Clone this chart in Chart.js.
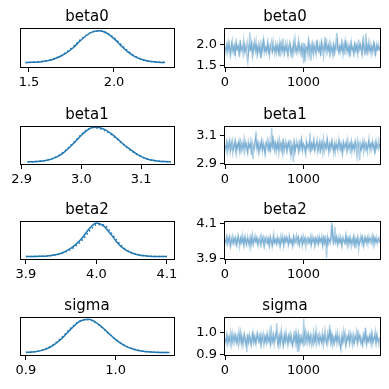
<!DOCTYPE html>
<html>
<head>
<meta charset="utf-8">
<script src="https://cdn.jsdelivr.net/npm/chart.js@4.4.0/dist/chart.umd.min.js"></script>
<style>
  body { margin: 0; background: #fff; }
  #wrap { position: relative; width: 389px; height: 389px; }
  canvas { position: absolute; }
</style>
</head>
<body>
<div id="wrap"></div>
<script>
// ---- data ----
const varNames = ['beta0', 'beta1', 'beta2', 'sigma']

// kde grids + densities (chain 0 solid, chain 1 dotted)
const beta0Grid = [1.48,1.52,1.56,1.60,1.64,1.68,1.72,1.76,1.80,1.84,1.88,1.92,1.96,2.00,2.04,2.08,2.12,2.16,2.20,2.24,2.28,2.30]
const beta0Kde1 = [0.02,0.04,0.08,0.17,0.33,0.62,1.02,1.55,2.25,2.85,3.25,3.33,3.05,2.50,1.80,1.15,0.65,0.35,0.17,0.08,0.03,0.02]
const beta0Kde2 = [0.02,0.05,0.10,0.20,0.36,0.66,1.10,1.68,2.35,2.90,3.22,3.30,3.08,2.60,1.92,1.25,0.72,0.38,0.18,0.08,0.04,0.03]

const beta1Grid = [2.91,2.92,2.93,2.94,2.95,2.96,2.97,2.98,2.99,3.00,3.01,3.02,3.03,3.04,3.05,3.06,3.07,3.08,3.09,3.10,3.11,3.12,3.13,3.14,3.15]
const beta1Kde1 = [0.03,0.08,0.19,0.43,0.9,1.7,2.9,4.6,6.5,8.5,10.1,11.0,10.9,10.2,9.0,7.4,5.7,4.2,2.85,1.75,0.95,0.5,0.25,0.11,0.05]
const beta1Kde2 = [0.04,0.1,0.22,0.5,1.0,1.85,3.1,4.8,6.8,8.7,10.3,10.9,10.6,9.9,8.7,7.2,5.6,4.0,2.7,1.6,0.9,0.45,0.2,0.1,0.05]

const beta2Grid = [3.90,3.91,3.92,3.93,3.94,3.95,3.96,3.97,3.98,3.99,4.00,4.01,4.02,4.03,4.04,4.05,4.06,4.07,4.08,4.09,4.10]
const beta2Kde1 = [0.05,0.1,0.2,0.4,0.9,1.9,3.7,6.5,10.5,15.5,18.6,17.0,12.6,7.6,4.0,2.0,0.9,0.4,0.15,0.06,0.03]
const beta2Kde2 = [0.04,0.08,0.18,0.38,0.85,1.7,3.2,5.6,9.2,14.0,17.6,17.6,13.6,8.4,4.5,2.2,1.0,0.45,0.18,0.07,0.03]

const sigmaGrid = [0.90,0.91,0.92,0.93,0.94,0.95,0.96,0.97,0.98,0.99,1.00,1.01,1.02,1.03,1.04,1.05,1.06]
const sigmaKde1 = [0.12,0.45,1.5,3.8,7.6,12.6,16.8,17.9,15.5,11.4,7.0,3.8,1.8,0.8,0.3,0.12,0.05]
const sigmaKde2 = [0.15,0.5,1.7,4.2,8.2,13.1,17.0,17.6,15.2,11.2,7.1,3.9,1.9,0.9,0.35,0.15,0.06]

// traces, thinned draws of each chain (150 per chain)
const beta0Trace1 = [
  1.93,1.80,2.02,1.86,1.99,1.75,1.94,2.09,1.84,1.97, 1.78,2.05,1.89,1.96,1.71,2.01,1.87,1.92,2.11,1.82,
  1.95,1.74,1.58,1.90,2.28,1.85,2.03,1.79,1.98,1.88, 2.07,1.76,1.93,1.83,2.00,1.69,1.95,2.12,1.86,1.91,
  1.81,2.04,1.89,1.73,1.97,2.08,1.84,1.92,1.77,2.01, 1.87,1.96,1.72,2.06,1.90,1.82,2.14,1.79,1.94,1.86,
  2.02,1.75,1.91,1.99,1.68,1.88,2.05,1.83,1.96,1.80, 1.93,2.10,1.85,1.77,1.98,1.89,1.55,2.03,1.84,1.92,
  1.74,2.07,1.88,1.62,1.97,1.81,2.01,1.90,1.76,2.09, 1.86,1.94,1.79,2.04,1.87,1.70,1.99,1.92,2.13,1.83,
  1.95,1.78,2.02,1.88,1.73,1.97,1.85,2.06,2.27,1.90, 1.81,1.96,1.87,2.03,1.75,1.92,2.09,1.84,1.99,1.79,
  1.93,1.71,2.05,1.89,1.82,2.00,1.86,1.95,1.77,2.11, 1.88,1.98,1.80,2.04,1.91,1.74,2.26,1.85,1.97,1.83,
  2.02,1.78,1.94,1.87,2.08,1.72,1.96,1.89,2.01,1.84]
const beta0Trace2 = [
  1.88,1.97,1.82,2.06,1.91,1.77,2.00,1.85,1.94,1.73, 2.03,1.89,1.95,1.80,2.10,1.86,1.93,1.76,1.98,1.84,
  1.90,2.05,1.79,1.96,1.87,2.01,1.72,1.92,2.08,1.83, 1.95,1.78,2.02,1.88,1.67,1.99,1.85,2.13,1.81,1.94,
  1.86,2.04,1.75,1.97,1.90,1.82,2.07,1.88,1.93,1.79, 2.00,1.84,1.96,1.71,2.09,1.87,1.92,1.80,2.03,1.89,
  1.77,1.95,2.06,1.83,1.91,1.74,1.98,2.15,1.86,1.93, 1.81,2.01,1.88,1.96,1.69,2.04,1.85,1.60,1.94,1.90,
  2.08,1.79,1.97,1.87,2.02,1.76,1.93,1.84,2.11,1.89, 1.82,1.99,1.73,2.05,1.91,1.86,2.18,1.80,1.95,1.88,
  2.03,1.77,1.92,1.85,2.00,1.72,1.96,1.89,2.07,1.83, 1.94,1.80,2.04,1.87,1.98,1.75,2.10,1.91,1.84,1.97,
  1.79,2.02,1.88,1.93,1.70,2.06,1.86,1.99,1.82,1.95, 2.01,1.87,1.76,2.21,1.90,1.83,1.97,1.74,2.05,1.89,
  1.85,1.96,1.81,2.03,1.92,1.78,2.00,1.88,1.94,1.86]

const beta1Trace1 = [
  3.03,2.99,3.06,3.01,3.05,2.98,3.04,3.07,3.00,3.02, 3.06,2.97,3.03,3.05,3.00,3.08,2.99,3.02,3.04,2.98,
  3.05,3.01,2.97,3.04,3.02,3.07,2.99,2.93,3.03,3.06, 3.13,3.00,3.04,2.98,3.02,3.06,2.99,3.05,3.01,2.97,
  3.04,3.07,3.00,3.03,2.98,3.155,3.02,3.05,2.99,3.04, 3.01,3.06,2.97,3.03,3.05,3.00,3.08,2.98,3.02,3.04,
  2.99,3.05,3.01,3.07,2.96,3.03,2.91,3.04,3.00,3.06, 3.02,2.98,3.05,3.01,3.07,2.99,3.04,3.02,2.97,3.05,
  3.03,3.00,3.12,2.98,3.04,3.01,3.06,2.99,3.03,3.07, 3.00,3.04,2.97,3.05,3.02,3.08,2.99,3.03,3.01,3.06,
  2.98,3.04,3.00,3.06,3.02,2.97,3.05,3.01,3.03,2.99, 3.07,3.01,3.04,2.98,3.05,3.00,3.03,3.06,2.99,3.02,
  3.04,2.97,3.06,3.01,3.03,2.99,3.05,3.02,3.07,3.00, 2.92,3.04,3.01,3.06,2.98,3.03,3.05,3.00,3.02,3.08,
  2.99,3.03,3.05,3.01,3.04,2.97,3.06,3.02,3.00,3.04]
const beta1Trace2 = [
  3.01,3.05,2.98,3.03,3.07,3.00,3.04,2.97,3.02,3.06, 2.99,3.04,3.01,3.06,2.98,3.03,3.05,3.00,3.08,3.02,
  3.04,2.99,3.06,3.01,3.03,2.96,3.05,3.02,3.00,3.07, 3.02,3.05,2.98,3.04,3.01,3.06,3.00,3.03,2.97,3.05,
  3.03,3.00,3.06,2.99,3.04,3.02,3.10,3.01,3.05,2.98, 3.04,3.01,3.07,3.00,3.03,2.97,3.05,3.02,3.06,2.99,
  3.03,3.05,3.00,2.95,3.04,3.01,3.06,2.98,3.03,3.02, 3.05,2.99,3.03,3.07,3.00,3.04,3.02,2.98,3.06,3.01,
  3.03,3.05,2.99,3.04,3.01,3.07,3.00,3.03,3.05,2.98, 3.02,3.06,3.00,3.04,2.97,3.03,3.05,3.01,3.08,3.02,
  2.99,3.04,3.02,3.06,3.00,3.03,2.98,3.05,3.01,3.04, 3.06,3.00,3.03,2.97,3.05,3.02,3.04,2.99,3.07,3.01,
  3.03,3.05,2.98,3.04,3.01,3.06,3.00,2.94,3.03,3.05, 3.01,2.99,3.04,3.02,3.06,3.00,3.03,2.98,3.05,3.02,
  3.04,3.00,3.06,3.02,2.98,3.05,3.01,3.03,3.07,3.00]

const beta2Trace1 = [
  4.012,3.984,4.027,3.993,4.018,3.972,4.004,4.031,3.987,4.009, 4.021,3.979,4.002,4.026,3.968,4.014,3.991,4.035,3.982,4.017,
  3.998,3.975,4.024,3.989,4.011,3.964,4.019,3.985,4.006,4.033, 3.992,4.016,3.974,4.008,4.028,3.981,4.003,4.022,3.952,4.013,
  4.025,3.988,4.010,3.970,4.020,3.996,3.978,4.038,3.990,4.007, 3.983,4.018,4.001,3.969,4.029,3.994,4.012,3.980,4.023,3.999,
  4.015,3.977,4.031,3.992,4.006,3.971,4.024,3.986,4.011,4.036, 3.989,4.020,3.976,4.009,4.027,3.984,4.003,4.017,3.966,4.014,
  4.022,3.991,4.008,3.973,4.030,3.997,4.013,3.981,4.019,4.002, 3.979,4.025,3.993,4.010,3.975,4.016,3.988,4.034,3.902,4.021,
  3.985,4.012,4.003,4.110,4.028,3.977,4.083,3.995,4.018,3.982, 4.026,3.990,4.009,3.970,4.023,4.001,3.986,4.032,3.974,4.015,
  3.994,4.019,3.968,4.008,4.027,3.983,4.011,3.978,4.021,3.952, 4.004,4.030,3.987,4.016,3.973,4.022,3.996,4.013,3.980,4.025,
  3.991,4.007,4.034,3.976,4.017,3.999,4.024,3.984,4.010,3.993]
const beta2Trace2 = [
  3.994,4.021,3.981,4.010,4.028,3.970,4.005,3.988,4.019,3.983, 4.013,3.976,4.030,4.001,3.985,4.022,3.993,4.011,3.972,4.027,
  3.987,4.015,4.002,3.969,4.024,3.991,4.037,3.980,4.012,3.998, 4.020,3.984,4.009,3.995,3.973,4.029,4.003,3.978,4.018,3.996,
  3.989,4.014,3.979,4.026,4.000,3.967,4.021,3.992,4.010,3.983, 4.023,3.990,4.012,3.977,4.004,4.031,3.971,4.016,3.994,4.025,
  3.999,3.982,4.019,3.993,4.008,3.976,4.027,4.003,3.988,4.014, 4.024,3.980,4.006,4.017,3.972,4.029,3.991,4.020,3.998,3.985,
  4.011,3.993,4.026,3.981,4.002,4.018,3.970,4.013,3.990,4.023, 3.986,4.015,4.001,4.030,3.974,4.021,3.992,4.008,3.979,4.019,
  4.003,3.984,4.021,4.092,3.991,4.014,3.997,4.026,3.980,4.009, 3.995,4.024,3.978,4.012,4.001,3.987,4.031,3.993,4.016,3.975,
  4.020,3.989,4.007,3.983,4.025,3.955,4.010,3.996,4.018,3.981, 3.992,4.013,4.028,3.977,4.004,4.019,3.986,4.023,3.998,4.011,
  4.017,3.985,4.002,4.026,3.979,4.012,3.994,4.008,4.021,3.988]

const sigmaTrace1 = [
  0.972,0.951,0.989,0.958,0.981,0.944,0.969,0.998,0.955,0.976, 0.993,0.962,0.984,0.941,0.973,1.004,0.956,0.979,0.948,0.987,
  0.966,0.912,0.991,0.953,0.977,0.945,0.968,1.001,0.959,0.983, 0.949,0.992,0.970,0.957,0.986,0.943,0.975,0.996,0.961,0.980,
  0.952,0.988,0.967,0.999,0.946,0.974,0.958,0.990,0.963,0.978, 1.041,0.954,0.982,0.947,0.994,0.965,0.939,0.985,0.960,1.003,
  0.971,0.950,0.987,0.957,0.979,0.942,0.968,1.008,0.953,0.984, 0.911,0.993,0.964,0.948,0.982,0.959,1.062,0.940,0.972,0.997,
  0.955,0.986,0.961,0.992,0.969,0.944,0.981,0.958,1.013,0.974, 0.990,0.949,0.976,0.962,1.000,0.945,0.983,0.967,0.952,0.995,
  0.966,1.035,0.957,0.985,0.943,0.978,0.961,0.994,0.950,0.980, 0.971,0.942,0.921,0.989,0.956,0.977,1.002,0.947,0.970,0.984,
  0.953,0.996,0.965,0.941,0.988,0.958,0.975,1.006,0.951,0.979, 0.991,0.954,0.973,0.946,0.984,0.962,0.999,0.948,0.977,0.960,
  0.982,0.947,0.994,0.958,0.971,1.005,0.952,0.986,0.963,0.975]
const sigmaTrace2 = [
  0.958,0.987,0.947,0.979,0.966,1.001,0.943,0.974,0.992,0.955, 0.981,0.950,0.969,1.007,0.957,0.985,0.940,0.972,0.995,0.961,
  0.944,0.983,0.960,0.993,0.971,0.946,1.003,0.956,0.980,0.952, 0.975,0.998,0.963,0.985,0.948,0.990,0.967,0.942,0.982,0.959,
  0.994,0.957,0.973,0.949,1.031,0.962,0.988,0.945,0.978,0.997, 0.965,0.940,0.983,0.954,1.009,0.970,0.946,0.991,0.958,0.980,
  0.947,0.986,0.968,0.996,0.955,0.941,0.979,0.964,1.002,0.953, 0.984,0.915,0.993,0.958,0.971,0.948,0.989,1.010,0.956,0.976,
  0.996,0.952,0.980,0.943,0.967,1.004,0.960,0.987,0.945,0.973, 0.957,0.992,0.970,0.949,0.983,0.961,1.010,0.968,0.944,0.985,
  0.974,1.015,0.954,0.990,0.962,0.946,0.981,0.967,0.999,0.958, 0.987,0.943,0.976,0.955,1.006,0.964,0.940,0.982,0.969,0.997,
  0.951,0.978,0.994,0.960,0.947,0.985,0.972,0.956,1.011,0.965, 0.980,0.958,0.941,0.993,0.970,1.021,0.952,0.976,0.961,0.989,
  0.966,0.998,0.949,0.972,0.984,0.955,0.991,0.963,0.944,0.978]

// tick values
const beta0KdeTicks = [1.5, 2.0]
const beta1KdeTicks = [2.9, 3.0, 3.1]
const beta2KdeTicks = [3.9, 4.0, 4.1]
const sigmaKdeTicks = [0.9, 1.0]
const drawTicks = [0, 1000]
const beta0TraceTicks = [1.5, 2.0]
const beta1TraceTicks = [2.9, 3.0, 3.1]
const beta2TraceTicks = [3.9, 4.0, 4.1]
const sigmaTraceTicks = [0.9, 1.0]

// ---- layout / styling ----
const FONT = 'DejaVu Sans'
const blue = '#1f77b4'
const traceColor = 'rgba(31,119,180,0.36)'
const drawStep = 13.2

const boxTops = [29, 127, 222, 318]
const boxHeights = [38, 37, 37, 37]

const panels = [
  { grid: beta0Grid, kde: [beta0Kde1, beta0Kde2], kdeTicks: beta0KdeTicks, kdeX: [1.453, 2.353], kdeY: [-0.45, 3.5],
    trace: [beta0Trace1, beta0Trace2], traceTicks: beta0TraceTicks, traceY: [1.47, 2.36] },
  { grid: beta1Grid, kde: [beta1Kde1, beta1Kde2], kdeTicks: beta1KdeTicks, kdeX: [2.899, 3.155], kdeY: [-0.66, 11.1],
    trace: [beta1Trace1, beta1Trace2], traceTicks: beta1TraceTicks, traceY: [2.895, 3.162] },
  { grid: beta2Grid, kde: [beta2Kde1, beta2Kde2], kdeTicks: beta2KdeTicks, kdeX: [3.893, 4.11], kdeY: [-1.3, 19.16],
    trace: [beta2Trace1, beta2Trace2], traceTicks: beta2TraceTicks, traceY: [3.896, 4.11] },
  { grid: sigmaGrid, kde: [sigmaKde1, sigmaKde2], kdeTicks: sigmaKdeTicks, kdeX: [0.8945, 1.065], kdeY: [-1.26, 18.54],
    trace: [sigmaTrace1, sigmaTrace2], traceTicks: sigmaTraceTicks, traceY: [0.899, 1.065] }
]

// axes box (matplotlib draws all four spines)
const frame = {
  id: 'frame',
  afterDraw(chart) {
    const a = chart.chartArea
    const ctx = chart.ctx
    ctx.save()
    ctx.strokeStyle = '#000'
    ctx.lineWidth = 1
    ctx.strokeRect(a.left - 0.5, a.top - 0.5, a.right - a.left + 1, a.bottom - a.top + 1)
    ctx.restore()
  }
}

const tickGrid = { drawOnChartArea: false, drawTicks: true, tickLength: 5, color: '#000', tickColor: '#000', lineWidth: 1 }
const tickFont = { family: FONT, size: 13 }

const makeCanvas = (left, top, w, h) => {
  const c = document.createElement('canvas')
  c.width = w
  c.height = h
  c.style.left = left + 'px'
  c.style.top = top + 'px'
  c.style.width = w + 'px'
  c.style.height = h + 'px'
  document.getElementById('wrap').appendChild(c)
  return c
}

const baseOptions = (title, rightPad) => ({
  responsive: false,
  animation: false,
  devicePixelRatio: 1,
  layout: { padding: { left: 0, right: rightPad, top: 0, bottom: 0 } },
  plugins: {
    legend: { display: false },
    tooltip: { enabled: false },
    title: {
      display: true, text: title, color: '#000',
      font: { family: FONT, size: 15, weight: 'normal', lineHeight: 1.2 },
      padding: { top: 8, bottom: 3 }
    }
  }
})

panels.forEach((p, r) => {
  const top = boxTops[r] - 29
  const h = 29 + boxHeights[r] + 30

  // left: kde
  const kdeOpts = baseOptions(varNames[r], 16)
  kdeOpts.scales = {
    x: {
      type: 'linear', min: p.kdeX[0], max: p.kdeX[1], bounds: 'data',
      afterBuildTicks: s => { s.ticks = p.kdeTicks.map(v => ({ value: v })) },
      afterFit: s => { s.height = 30 },
      grid: tickGrid, border: { display: false },
      ticks: { color: '#000', font: tickFont, padding: 3, maxRotation: 0, autoSkip: false, callback: v => v.toFixed(1) }
    },
    y: {
      min: p.kdeY[0], max: p.kdeY[1],
      afterFit: s => { s.width = 21 },
      grid: { display: false }, border: { display: false }, ticks: { display: false }
    }
  }
  new Chart(makeCanvas(0, top, 190, h), {
    type: 'scatter',
    data: {
      datasets: p.kde.map((ys, k) => ({
        data: p.grid.map((x, i) => ({ x: x, y: ys[i] })),
        showLine: true, borderColor: blue, borderWidth: 1.5, pointRadius: 0,
        cubicInterpolationMode: 'monotone', borderDash: k === 0 ? [] : [1.5, 2.5]
      }))
    },
    options: kdeOpts,
    plugins: [frame]
  })

  // right: trace
  const trOpts = baseOptions(varNames[r], 9)
  trOpts.scales = {
    x: {
      type: 'linear', min: 0, max: 1975, bounds: 'data',
      afterBuildTicks: s => { s.ticks = drawTicks.map(v => ({ value: v })) },
      afterFit: s => { s.height = 30 },
      grid: tickGrid, border: { display: false },
      ticks: { color: '#000', font: tickFont, padding: 3, maxRotation: 0, autoSkip: false, callback: v => String(v) }
    },
    y: {
      min: p.traceY[0], max: p.traceY[1], bounds: 'data',
      afterBuildTicks: s => { s.ticks = p.traceTicks.map(v => ({ value: v })) },
      afterFit: s => { s.width = 35 },
      grid: tickGrid, border: { display: false },
      ticks: { color: '#000', font: tickFont, padding: 3, callback: v => v.toFixed(1) }
    }
  }
  new Chart(makeCanvas(190, top, 199, h), {
    type: 'scatter',
    data: {
      datasets: p.trace.map((ys, k) => ({
        data: ys.map((y, i) => ({ x: i * drawStep + k * drawStep / 2, y: y })),
        showLine: true, borderColor: traceColor, borderWidth: 1.4, pointRadius: 0, tension: 0
      }))
    },
    options: trOpts,
    plugins: [frame]
  })
})
</script>
</body>
</html>
